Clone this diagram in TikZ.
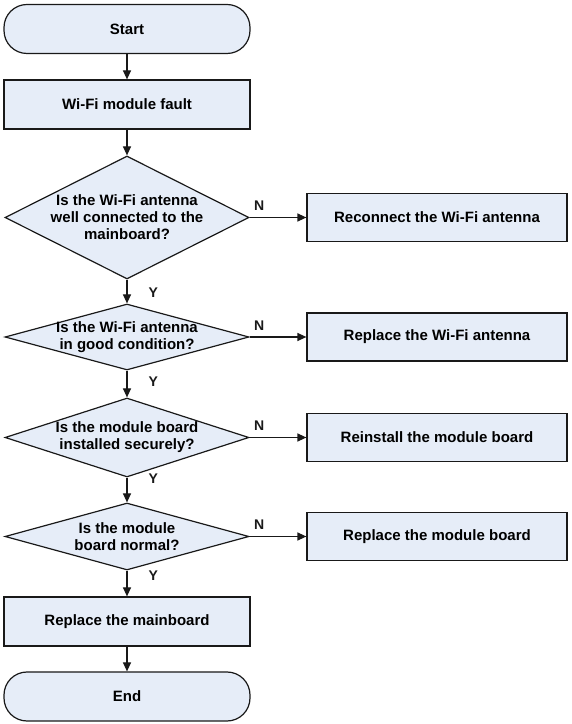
\documentclass[tikz,border=0pt]{standalone}
\usepackage{fontspec}
\setmainfont{Liberation Sans}
\usetikzlibrary{shapes.geometric}
\usetikzlibrary{arrows.meta}
\definecolor{boxfill}{RGB}{230,237,248}
\definecolor{boxline}{RGB}{25,25,25}
\tikzset{block/.style={rectangle,draw=boxline,fill=boxfill,minimum width=246pt,minimum height=49pt,line width=1.2pt,font=\bfseries\fontsize{15}{17}\selectfont}}
\tikzset{term/.style={block,rounded corners=23pt}}
\tikzset{fix/.style={block,minimum width=260pt,minimum height=48pt}}
\tikzset{decision/.style={diamond,draw=boxline,fill=boxfill,line width=1.2pt,minimum width=244pt,inner sep=0pt}}
\tikzset{qtext/.style={align=center,inner sep=0pt,font=\bfseries\fontsize{15}{17}\selectfont}}
\tikzset{line/.style={boxline,line width=1.2pt,>={Triangle[length=9pt,width=8pt]}}}
\tikzset{yn/.style={inner sep=0pt,font=\bfseries\fontsize{14}{14}\selectfont}}
\begin{document}
\begin{tikzpicture}[x=1pt,y=1pt]
  \useasboundingbox (0,0) rectangle (572,724);

  % Main column
  \node[term] (start) at (127,695) {Start};
  \node[block] (fault) at (127,619.5) {Wi-Fi module fault};

  \node[decision,minimum height=123pt] (d1) at (127,506.5) {};
  \node[qtext] (q1) at (d1) {Is the Wi-Fi antenna\\well connected to the\\mainboard?};
  \node[decision,minimum height=66pt] (d2) at (127,387) {};
  \node[qtext] (q2) at (d2) {Is the Wi-Fi antenna\\in good condition?};
  \node[decision,minimum height=79pt] (d3) at (127,286.5) {};
  \node[qtext] (q3) at (d3) {Is the module board\\installed securely?};
  \node[decision,minimum height=67pt] (d4) at (127,187.5) {};
  \node[qtext] (q4) at (d4) {Is the module\\board normal?};

  \node[block] (mainboard) at (127,102.5) {Replace the mainboard};
  \node[term] (end) at (127,27.5) {End};

  % Fixes
  \node[fix] (r1) at (437,506.5) {Reconnect the Wi-Fi antenna};
  \node[fix] (r2) at (437,387) {Replace the Wi-Fi antenna};
  \node[fix] (r3) at (437,286.5) {Reinstall the module board};
  \node[fix] (r4) at (437,187.5) {Replace the module board};

  % Arrows
  \draw[line,->] (start) -- (fault);
  \draw[line,->] (fault) -- (d1);
  \draw[line,->] (d1) -- (d2) node[yn,pos=0.56,anchor=west,xshift=21pt] {Y};
  \draw[line,->] (d2) -- (d3) node[yn,pos=0.43,anchor=west,xshift=21pt] {Y};
  \draw[line,->] (d3) -- (d4) node[yn,pos=0.06,anchor=west,xshift=21pt] {Y};
  \draw[line,->] (d4) -- (mainboard) node[yn,pos=0.2,anchor=west,xshift=21pt] {Y};
  \draw[line,->] (mainboard) -- (end);

  \draw[line,->] (d1) -- (r1) node[yn,at start,anchor=south west,xshift=4pt,yshift=6pt] {N};
  \draw[line,->] (d2) -- (r2) node[yn,at start,anchor=south west,xshift=4pt,yshift=6pt] {N};
  \draw[line,->] (d3) -- (r3) node[yn,at start,anchor=south west,xshift=4pt,yshift=6pt] {N};
  \draw[line,->] (d4) -- (r4) node[yn,at start,anchor=south west,xshift=4pt,yshift=6pt] {N};
\end{tikzpicture}
\end{document}
